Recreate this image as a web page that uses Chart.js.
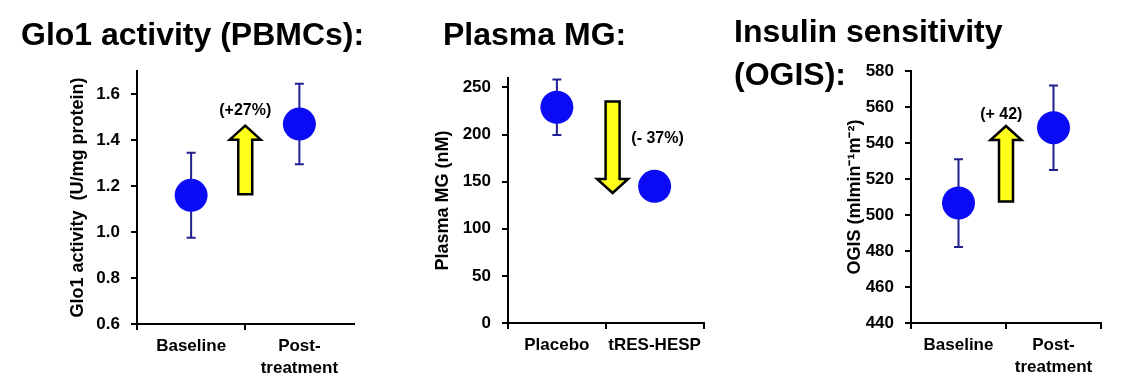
<!DOCTYPE html>
<html>
<head>
<meta charset="utf-8">
<script src="https://cdn.jsdelivr.net/npm/chart.js@4"></script>
<style>
    body { margin: 0; background: #fff; width: 1129px; height: 389px; overflow: hidden; position: relative;
           font-family: "Liberation Sans", Arial, sans-serif; }
    .title { position: absolute; font-weight: bold; font-size: 32px; line-height: 43px; color: #000;
             white-space: nowrap; z-index: 2; }
    canvas { position: absolute; top: 50px; }
</style>
</head>
<body>
<div class="title" style="left:21px; top:13px;">Glo1 activity (PBMCs):</div>
<div class="title" style="left:443px; top:13px;">Plasma MG:</div>
<div class="title" style="left:734px; top:10px;">Insulin sensitivity<br>(OGIS):</div>

<canvas id="glo1Chart" width="320" height="339" style="left:50px"></canvas>
<canvas id="mgChart" width="320" height="339" style="left:400px"></canvas>
<canvas id="ogisChart" width="369" height="339" style="left:760px"></canvas>

<script>
// Glo1 activity (PBMCs)
const glo1Labels = ['Baseline', ['Post-', 'treatment']];
const glo1Means = [1.16, 1.47];
const glo1Errors = [0.185, 0.175];
const glo1Ticks = [0.6, 0.8, 1.0, 1.2, 1.4, 1.6];
const glo1Arrow = [1.165, 1.463];
const glo1Note = '(+27%)';

// Plasma MG
const mgLabels = ['Placebo', 'tRES-HESP'];
const mgMeans = [229, 145];
const mgErrors = [29.5, 15];
const mgTicks = [0, 50, 100, 150, 200, 250];
const mgArrow = [235, 138];
const mgNote = '(- 37%)';

// Insulin sensitivity (OGIS)
const ogisLabels = ['Baseline', ['Post-', 'treatment']];
const ogisMeans = [506.7, 548.6];
const ogisErrors = [24.4, 23.5];
const ogisTicks = [440, 460, 480, 500, 520, 540, 560, 580];
const ogisArrow = [507.6, 549.5];
const ogisNote = '(+ 42)';

Chart.defaults.font.family = '"Liberation Sans", Arial, sans-serif';
Chart.defaults.font.weight = 'bold';
Chart.defaults.color = '#000';

function drawArrow(ctx, x, y0, y1) {
    const dir = y1 < y0 ? -1 : 1;
    const shaftHalf = 7, headHalf = 15.5, headLen = 14;
    const yb = y1 - dir * headLen;
    ctx.beginPath();
    ctx.moveTo(x - shaftHalf, y0);
    ctx.lineTo(x - shaftHalf, yb);
    ctx.lineTo(x - headHalf, yb);
    ctx.lineTo(x, y1);
    ctx.lineTo(x + headHalf, yb);
    ctx.lineTo(x + shaftHalf, yb);
    ctx.lineTo(x + shaftHalf, y0);
    ctx.closePath();
    ctx.fillStyle = '#ffff1a';
    ctx.fill();
    ctx.lineWidth = 2.5;
    ctx.lineJoin = 'miter';
    ctx.strokeStyle = '#000';
    ctx.stroke();
}

// p: labels, means, errors, ticks, min, max, digits, yTitle, arrow, arrowX, note, noteX, noteY, pad, yWidth, lastTick
function buildPanel(id, p) {
    const panelPlugin = {
        id: 'panelMarks',
        beforeDatasetsDraw(chart) {
            const ctx = chart.ctx;
            const xs = chart.scales.x, ys = chart.scales.y;
            ctx.save();
            ctx.strokeStyle = '#202090';
            ctx.lineWidth = 2;
            p.means.forEach((m, i) => {
                const x = xs.getPixelForValue(i);
                const yt = ys.getPixelForValue(m + p.errors[i]);
                const yb = ys.getPixelForValue(m - p.errors[i]);
                ctx.beginPath();
                ctx.moveTo(x, yt); ctx.lineTo(x, yb);
                ctx.moveTo(x - 4.5, yt); ctx.lineTo(x + 4.5, yt);
                ctx.moveTo(x - 4.5, yb); ctx.lineTo(x + 4.5, yb);
                ctx.stroke();
            });
            ctx.restore();
        },
        afterDatasetsDraw(chart) {
            const ctx = chart.ctx;
            const xs = chart.scales.x, ys = chart.scales.y;
            ctx.save();
            const ax = xs.getPixelForValue(p.arrowX);
            drawArrow(ctx, ax, ys.getPixelForValue(p.arrow[0]), ys.getPixelForValue(p.arrow[1]));
            ctx.fillStyle = '#000';
            ctx.font = 'bold 16px "Liberation Sans", Arial, sans-serif';
            ctx.textAlign = 'center';
            ctx.textBaseline = 'middle';
            ctx.fillText(p.note, xs.getPixelForValue(p.noteX), ys.getPixelForValue(p.noteY));
            ctx.restore();
        }
    };

    return new Chart(document.getElementById(id), {
        type: 'line',
        data: {
            labels: p.labels,
            datasets: [{
                data: p.means,
                showLine: false,
                pointRadius: 16.5,
                pointBackgroundColor: '#0a0af5',
                pointBorderWidth: 0
            }]
        },
        options: {
            responsive: false,
            animation: false,
            events: [],
            layout: { padding: p.pad },
            plugins: { legend: { display: false }, tooltip: { enabled: false } },
            scales: {
                x: {
                    type: 'category',
                    offset: true,
                    border: { display: true, color: '#000', width: 2 },
                    grid: {
                        offset: true,
                        drawOnChartArea: false,
                        drawTicks: true,
                        tickLength: 6,
                        lineWidth: 2,
                        color: c => (c.type === 'tick' || p.lastTick) ? '#000' : 'rgba(0,0,0,0)'
                    },
                    ticks: { font: { size: 17, weight: 'bold', lineHeight: 1.3 }, padding: 5, maxRotation: 0 },
                    afterFit: s => { s.height = 60; }
                },
                y: {
                    min: p.min,
                    max: p.max,
                    border: { display: true, color: '#000', width: 2 },
                    grid: { drawOnChartArea: false, drawTicks: true, tickLength: 6, lineWidth: 2, color: '#000' },
                    ticks: {
                        font: { size: 17, weight: 'bold' },
                        padding: 11,
                        callback: v => v.toFixed(p.digits)
                    },
                    afterBuildTicks: s => { s.ticks = p.ticks.map(v => ({ value: v })); },
                    title: { display: true, text: p.yTitle, font: { size: 18, weight: 'bold' } },
                    afterFit: s => { s.width = p.yWidth; }
                }
            }
        },
        plugins: [panelPlugin]
    });
}

buildPanel('glo1Chart', {
    labels: glo1Labels, means: glo1Means, errors: glo1Errors, ticks: glo1Ticks,
    min: 0.6, max: 1.7, digits: 1, yTitle: 'Glo1 activity  (U/mg protein)',
    arrow: glo1Arrow, arrowX: 0.5, note: glo1Note, noteX: 0.5, noteY: 1.53,
    pad: { left: 13, top: 14, right: 12, bottom: 5 }, yWidth: 74, lastTick: false
});

buildPanel('mgChart', {
    labels: mgLabels, means: mgMeans, errors: mgErrors, ticks: mgTicks,
    min: 0, max: 260, digits: 0, yTitle: 'Plasma MG (nM)',
    arrow: mgArrow, arrowX: 0.57, note: mgNote, noteX: 1.03, noteY: 196,
    pad: { left: 28, top: 28, right: 7, bottom: 6 }, yWidth: 80, lastTick: true
});

buildPanel('ogisChart', {
    labels: ogisLabels, means: ogisMeans, errors: ogisErrors, ticks: ogisTicks,
    min: 440, max: 580, digits: 0, yTitle: 'OGIS (mlmin⁻¹m⁻²)',
    arrow: ogisArrow, arrowX: 0.5, note: ogisNote, noteX: 0.45, noteY: 556,
    pad: { left: 80, top: 20, right: 28, bottom: 6 }, yWidth: 71, lastTick: true
});
</script>
</body>
</html>
